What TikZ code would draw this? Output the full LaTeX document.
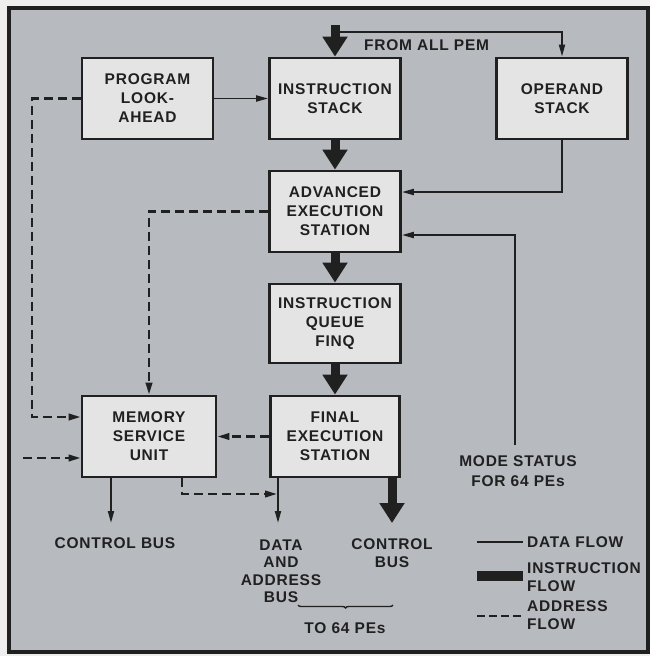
\documentclass[tikz,border=0pt]{standalone}
\usepackage{fontspec}
\setmainfont{Liberation Sans}[LetterSpace=5]
\usetikzlibrary{arrows.meta,decorations.pathreplacing}
\definecolor{bgc}{RGB}{183,186,191}
\definecolor{boxc}{RGB}{228,228,228}
\definecolor{ink}{RGB}{32,32,32}
\definecolor{outc}{RGB}{238,238,238}
\tikzset{
  lbl/.style={font=\fontsize{15.5}{19}\selectfont\bfseries, text=ink, inner sep=0pt, align=center},
  blk/.style={lbl, draw=ink, line width=2.8pt, fill=boxc, minimum width=131pt, minimum height=81pt},
  data/.style={draw=ink, line width=1.9pt, -{Triangle[length=12pt,width=6pt]}},
  addr/.style={draw=ink, line width=2.3pt, dash pattern=on 9pt off 5pt, -{Triangle[length=12pt,width=6.5pt]}},
  instr/.style={draw=ink, line width=9pt, -{Triangle[length=20pt,width=24pt]}},
}
\begin{document}
\begin{tikzpicture}[x=1pt,y=-1pt]
\fill[outc] (0,0) rectangle (650,656);
\useasboundingbox (0,0) rectangle (650,656);
\draw[ink, line width=3.2pt, fill=bgc] (9,8) rectangle (648,652);

% blocks
\node[blk] (pla)  at (147.5,98.5) {PROGRAM\\LOOK-\\AHEAD};
\node[blk] (is)   at (335,98.5)   {INSTRUCTION\\STACK};
\node[blk] (os)   at (562,98.5)   {OPERAND\\STACK};
\node[blk] (aes)  at (335,211.5)  {ADVANCED\\EXECUTION\\STATION};
\node[blk, minimum height=79pt] (finq) at (335,323.5) {INSTRUCTION\\QUEUE\\FINQ};
\node[blk, minimum width=134pt] (msu) at (149,436.5) {MEMORY\\SERVICE\\UNIT};
\node[blk, minimum width=129pt] (fes) at (335,436.5) {FINAL\\EXECUTION\\STATION};

% labels
\node[lbl, anchor=west] (fromall) at (364,45) {FROM ALL PEM};
\node[lbl] (cbl) at (115,543) {CONTROL BUS};
\node[lbl, font=\fontsize{15.5}{17.5}\selectfont\bfseries] (dab) at (281,571) {DATA\\AND\\ADDRESS\\BUS};
\node[lbl, font=\fontsize{15.5}{17.5}\selectfont\bfseries] (cbr) at (392,553) {CONTROL\\BUS};
\node[lbl] (to64) at (345,628) {TO 64 PEs};
\node[lbl, font=\fontsize{15.5}{20}\selectfont\bfseries] (mode) at (518,471) {MODE STATUS\\FOR 64 PEs};

% coordinates
\coordinate (top) at (335,25);
\coordinate (j1) at (335,32);
\coordinate (ms) at (515,445);
\coordinate (lin) at (23,458);
\coordinate (cb1) at (111,523);
\coordinate (db) at (278,523);
\coordinate (cb2) at (392,523);

% instruction flow
\draw[instr] (top) -- (is.north);
\draw[instr] (is.south) -- (aes.north);
\draw[instr] (aes.south) -- (finq.north);
\draw[instr] (finq.south) -- (fes.north);
\draw[instr] (fes.south -| cb2) -- (cb2);

% data flow
\draw[data] (j1) -| (os.north);
\draw[data] (pla.east) -- (is.west);
\draw[data] (os.south) |- ([yshift=19.5pt]aes.east);
\draw[data] (ms) |- ([yshift=-23.5pt]aes.east);
\draw[data] (msu.south -| cb1) -- (cb1);
\draw[data] (fes.south -| db) -- (db);

% address flow
\draw[addr] (pla.west) -| (32,417) -- ([yshift=19.5pt]msu.west);
\draw[addr] (aes.west) -| (msu.north);
\draw[addr] (fes.west) -- (msu.east);
\draw[addr] (lin) -- ([yshift=-21.5pt]msu.west);
\draw[addr] ([xshift=33pt]msu.south) |- (277,494);

% brace
\draw[ink, line width=1.4pt, decorate, decoration={brace, mirror, amplitude=3pt}] (298,605) -- (393,605);

% legend
\coordinate (l1a) at (477,542); \coordinate (l1b) at (523,542);
\coordinate (l3a) at (477,616); \coordinate (l3b) at (523,616);
\draw[ink, line width=1.9pt] (l1a) -- (l1b);
\fill[ink] (477,571) rectangle (523,581);
\draw[ink, line width=2.3pt, dash pattern=on 8pt off 4pt] (l3a) -- (l3b);
\node[lbl, anchor=west] (lg1) at (527,542) {DATA FLOW};
\node[lbl, anchor=west, align=left, font=\fontsize{15.5}{18}\selectfont\bfseries] (lg2) at (527,577) {INSTRUCTION\\FLOW};
\node[lbl, anchor=west, align=left, font=\fontsize{15.5}{18}\selectfont\bfseries] (lg3) at (527,615.5) {ADDRESS\\FLOW};
\end{tikzpicture}
\end{document}
